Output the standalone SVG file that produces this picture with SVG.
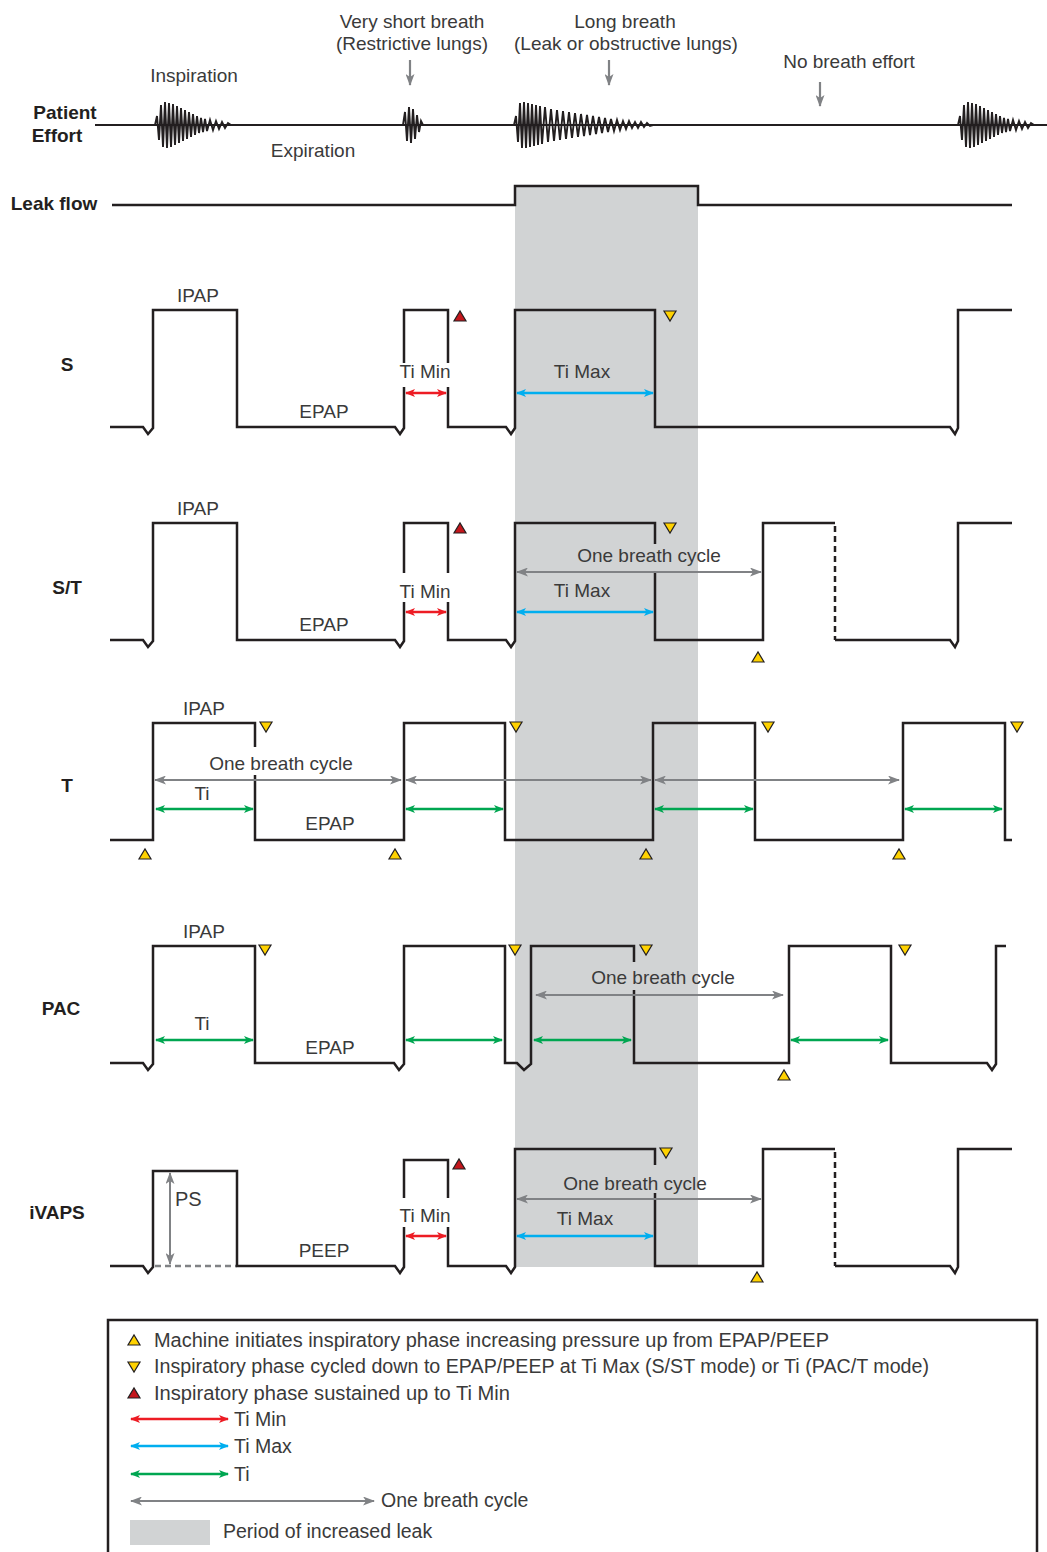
<svg xmlns="http://www.w3.org/2000/svg" xmlns:xlink="http://www.w3.org/1999/xlink" width="1047" height="1552" viewBox="0 0 1047 1552">
<style>
.lbl{font-family:"Liberation Sans",Arial,sans-serif;font-size:19px;fill:#3a3a3a}
.lg{font-family:"Liberation Sans",Arial,sans-serif;font-size:19.5px;fill:#3a3a3a}
.hd{font-family:"Liberation Sans",Arial,sans-serif;font-size:19px;font-weight:bold;fill:#231f20;text-anchor:middle}
.c{text-anchor:middle}
.wave{fill:none;stroke:#231f20;stroke-width:2.5;stroke-linejoin:miter}
.dash{fill:none;stroke:#231f20;stroke-width:2.5;stroke-dasharray:6 4}
.burst{fill:none;stroke:#231f20;stroke-width:1.9;stroke-linejoin:miter}
.red{stroke:#ed1c24;stroke-width:2.5;marker-start:url(#mr);marker-end:url(#mr)}
.blue{stroke:#00aeef;stroke-width:2.5;marker-start:url(#mb);marker-end:url(#mb)}
.green{stroke:#00a651;stroke-width:2.5;marker-start:url(#mg);marker-end:url(#mg)}
.gray{stroke:#808285;stroke-width:2;marker-start:url(#mk);marker-end:url(#mk)}
.down{stroke:#808285;stroke-width:2.2;marker-end:url(#mk)}
.ty{fill:#ffd200;stroke:#231f20;stroke-width:1.2}
.tr{fill:#c4161c;stroke:#231f20;stroke-width:1.2}
</style>
<defs>
<marker id="mr" viewBox="0 0 10 8" refX="9" refY="4" markerWidth="10" markerHeight="8" markerUnits="userSpaceOnUse" orient="auto-start-reverse"><path d="M0,0 L10,4 L0,8 L2.5,4 z" fill="#ed1c24"/></marker>
<marker id="mb" viewBox="0 0 10 8" refX="9" refY="4" markerWidth="10" markerHeight="8" markerUnits="userSpaceOnUse" orient="auto-start-reverse"><path d="M0,0 L10,4 L0,8 L2.5,4 z" fill="#00aeef"/></marker>
<marker id="mg" viewBox="0 0 10 8" refX="9" refY="4" markerWidth="10" markerHeight="8" markerUnits="userSpaceOnUse" orient="auto-start-reverse"><path d="M0,0 L10,4 L0,8 L2.5,4 z" fill="#00a651"/></marker>
<marker id="mk" viewBox="0 0 12 9" refX="11" refY="4.5" markerWidth="12" markerHeight="9" markerUnits="userSpaceOnUse" orient="auto-start-reverse"><path d="M0,0 L12,4.5 L0,9 L3,4.5 z" fill="#808285"/></marker>
<polygon id="tu" points="-6,5 6,5 0,-5"/>
<polygon id="td" points="-6,-5 6,-5 0,5"/>
<polyline id="b1" points="155,125 157,116 159,140 161,105 163,147 165,102 167,148 169,103 171,147 173,104 175,145 177,106 179,143 181,108 183,141 185,110 187,139 189,112 191,137 193,114 195,135 197,116 199,133 201,118 203,132 205,119 207,131 210,120 213,130 216,121 219,129 222,122 225,128 228,123 231,125 233,125"/>
</defs>
<rect width="1047" height="1552" fill="#fff"/>

<!-- leak period shading -->
<rect id="leak-band" x="515" y="186" width="183" height="1081" fill="#d1d3d4"/>

<!-- Patient effort -->
<g id="patient-effort">
<text class="hd" x="65" y="119">Patient</text>
<text class="hd" x="57" y="142">Effort</text>
<path class="wave" style="stroke-width:2" d="M95,125 H1047"/>
<use href="#b1" xlink:href="#b1" class="burst"/>
<polyline class="burst" points="403,125 405,112 407,141 409,107 411,143 413,109 415,139 417,115 419,132 421,121 423,125"/>
<polyline class="burst" points="514,125 516,116 518,142 520,103 522,148 524,102 526,148 528,103 530,147 532,104 534,146 536,105 538,145 540,106 542,144 545,107 548,142 551,109 554,141 557,110 560,140 563,111 566,139 569,112 572,138 575,113 578,137 581,114 584,136 587,115 590,135 593,116 596,134 599,117 602,133 605,118 608,132 611,119 614,131 617,120 620,130 623,121 626,129 629,121 632,128 635,122 638,128 641,122 644,127 647,123 650,126 653,125 656,125"/>
<use href="#b1" xlink:href="#b1" class="burst" transform="translate(803,0)"/>
<text class="lbl c" x="194" y="82">Inspiration</text>
<text class="lbl c" x="313" y="157">Expiration</text>
<text class="lbl c" x="412" y="28">Very short breath</text>
<text class="lbl c" x="412" y="50">(Restrictive lungs)</text>
<text class="lbl c" x="625" y="28">Long breath</text>
<text class="lbl c" x="626" y="50">(Leak or obstructive lungs)</text>
<text class="lbl c" x="849" y="68">No breath effort</text>
</g>

<!-- Leak flow -->
<g id="leak-flow">
<text class="hd" x="54" y="210">Leak flow</text>
<path class="wave" d="M112,205 H515 V186 H698 V205 H1012"/>
</g>

<!-- S -->
<g id="mode-s">
<text class="hd" x="67" y="371">S</text>
<path class="wave" d="M110,427 H143 L148,434 L153,428 V310 H237 V427 H395 L400,434 L404,428 V387"/>
<path class="wave" d="M404,363 V310 H448 V363"/>
<path class="wave" d="M448,387 V427 H506 L511,434 L515,428 V310 H655 V427 H950 L955,434 L958,428 V310 H1012"/>
<text class="lbl c" x="198" y="302">IPAP</text>
<text class="lbl c" x="324" y="418">EPAP</text>
<text class="lbl c" x="425" y="378">Ti Min</text>
<text class="lbl c" x="582" y="378">Ti Max</text>
<use href="#tu" xlink:href="#tu" class="tr" x="460" y="316"/>
<use href="#td" xlink:href="#td" class="ty" x="670" y="316"/>
</g>

<!-- S/T -->
<g id="mode-st">
<text class="hd" x="67" y="594">S/T</text>
<path class="wave" d="M110,640 H143 L148,647 L153,641 V523 H237 V640 H395 L400,647 L404,641 V602"/>
<path class="wave" d="M404,573 V523 H448 V573"/>
<path class="wave" d="M448,602 V640 H506 L511,647 L515,641 V523 H655 V544"/>
<path class="wave" d="M655,571 V640 H763 V523 H835"/>
<path class="dash" d="M835,526 V640"/>
<path class="wave" d="M835,640 H950 L955,647 L958,641 V523 H1012"/>
<text class="lbl c" x="198" y="515">IPAP</text>
<text class="lbl c" x="324" y="631">EPAP</text>
<text class="lbl c" x="425" y="598">Ti Min</text>
<text class="lbl c" x="649" y="562">One breath cycle</text>
<text class="lbl c" x="582" y="597">Ti Max</text>
<use href="#tu" xlink:href="#tu" class="tr" x="460" y="528"/>
<use href="#td" xlink:href="#td" class="ty" x="670" y="528"/>
<use href="#tu" xlink:href="#tu" class="ty" x="758" y="657"/>
</g>

<!-- T -->
<g id="mode-t">
<text class="hd" x="67" y="792">T</text>
<path class="wave" d="M110,840 H153 V723 H255 V747"/>
<path class="wave" d="M255,775 V840 H404 V723 H505 V840 H653 V723 H755 V840 H903 V723 H1005 V840 H1012"/>
<text class="lbl c" x="204" y="715">IPAP</text>
<text class="lbl c" x="281" y="770">One breath cycle</text>
<text class="lbl c" x="202" y="800">Ti</text>
<text class="lbl c" x="330" y="830">EPAP</text>
<use href="#tu" xlink:href="#tu" class="ty" x="145" y="854"/>
<use href="#tu" xlink:href="#tu" class="ty" x="395" y="854"/>
<use href="#tu" xlink:href="#tu" class="ty" x="646" y="854"/>
<use href="#tu" xlink:href="#tu" class="ty" x="899" y="854"/>
<use href="#td" xlink:href="#td" class="ty" x="266" y="727"/>
<use href="#td" xlink:href="#td" class="ty" x="516" y="727"/>
<use href="#td" xlink:href="#td" class="ty" x="768" y="727"/>
<use href="#td" xlink:href="#td" class="ty" x="1017" y="727"/>
</g>

<!-- PAC -->
<g id="mode-pac">
<text class="hd" x="61" y="1015">PAC</text>
<path class="wave" d="M110,1063 H143 L148,1070 L153,1064 V946 H255 V1063 H394 L399,1070 L404,1064 V946 H505 V1063 H517 L524,1070 L531,1064 V946 H634 V962"/>
<path class="wave" d="M634,990 V1063 H789 V946 H891 V1063 H987 L992,1070 L996,1064 V946 H1006"/>
<text class="lbl c" x="204" y="938">IPAP</text>
<text class="lbl c" x="202" y="1030">Ti</text>
<text class="lbl c" x="330" y="1054">EPAP</text>
<text class="lbl c" x="663" y="984">One breath cycle</text>
<use href="#td" xlink:href="#td" class="ty" x="265" y="950"/>
<use href="#td" xlink:href="#td" class="ty" x="515" y="950"/>
<use href="#td" xlink:href="#td" class="ty" x="646" y="950"/>
<use href="#td" xlink:href="#td" class="ty" x="905" y="950"/>
<use href="#tu" xlink:href="#tu" class="ty" x="784" y="1075"/>
</g>

<!-- iVAPS -->
<g id="mode-ivaps">
<text class="hd" x="57" y="1219">iVAPS</text>
<path d="M155,1266 H237" fill="none" stroke="#808285" stroke-width="2.5" stroke-dasharray="6 4"/>
<path class="wave" d="M110,1266 H143 L148,1273 L153,1267 V1171 H237 V1266 H395 L400,1273 L404,1267 V1227"/>
<path class="wave" d="M404,1198 V1160 H448 V1198"/>
<path class="wave" d="M448,1227 V1266 H506 L511,1273 L515,1267 V1149 H655 V1165"/>
<path class="wave" d="M655,1193 V1266 H763 V1149 H835"/>
<path class="dash" d="M835,1152 V1266"/>
<path class="wave" d="M835,1266 H950 L955,1273 L958,1267 V1149 H1012"/>
<text class="lbl" x="175" y="1206" style="font-size:20px">PS</text>
<text class="lbl c" x="324" y="1257">PEEP</text>
<text class="lbl c" x="425" y="1222">Ti Min</text>
<text class="lbl c" x="635" y="1190">One breath cycle</text>
<text class="lbl c" x="585" y="1225">Ti Max</text>
<use href="#tu" xlink:href="#tu" class="tr" x="459" y="1164"/>
<use href="#td" xlink:href="#td" class="ty" x="666" y="1153"/>
<use href="#tu" xlink:href="#tu" class="ty" x="757" y="1277"/>
</g>

<!-- connectors / interval arrows -->
<g id="connectors">
<line class="down" x1="410" y1="60" x2="410" y2="85"/>
<line class="down" x1="609" y1="60" x2="609" y2="85"/>
<line class="down" x1="820" y1="82" x2="820" y2="106"/>
<!-- S -->
<line class="red" x1="406" y1="393" x2="446" y2="393"/>
<line class="blue" x1="517" y1="393" x2="653" y2="393"/>
<!-- S/T -->
<line class="gray" x1="517" y1="572" x2="761" y2="572"/>
<line class="red" x1="406" y1="612" x2="446" y2="612"/>
<line class="blue" x1="517" y1="612" x2="653" y2="612"/>
<!-- T -->
<line class="gray" x1="155" y1="780" x2="401" y2="780"/>
<line class="gray" x1="406" y1="780" x2="651" y2="780"/>
<line class="gray" x1="655" y1="780" x2="899" y2="780"/>
<line class="green" x1="156" y1="809" x2="253" y2="809"/>
<line class="green" x1="406" y1="809" x2="503" y2="809"/>
<line class="green" x1="655" y1="809" x2="753" y2="809"/>
<line class="green" x1="905" y1="809" x2="1002" y2="809"/>
<!-- PAC -->
<line class="gray" x1="536" y1="995" x2="783" y2="995"/>
<line class="green" x1="156" y1="1040" x2="253" y2="1040"/>
<line class="green" x1="406" y1="1040" x2="502" y2="1040"/>
<line class="green" x1="534" y1="1040" x2="631" y2="1040"/>
<line class="green" x1="791" y1="1040" x2="888" y2="1040"/>
<!-- iVAPS -->
<line class="gray" x1="170" y1="1173" x2="170" y2="1264"/>
<line class="gray" x1="517" y1="1199" x2="761" y2="1199"/>
<line class="red" x1="406" y1="1236" x2="446" y2="1236"/>
<line class="blue" x1="517" y1="1236" x2="653" y2="1236"/>
</g>

<!-- Legend -->
<g id="legend">
<rect x="108" y="1320" width="929" height="250" fill="none" stroke="#231f20" stroke-width="2.5"/>
<use href="#tu" xlink:href="#tu" class="ty" x="134" y="1340"/>
<text class="lg" x="154" y="1347" textLength="675" lengthAdjust="spacingAndGlyphs">Machine initiates inspiratory phase increasing pressure up from EPAP/PEEP</text>
<use href="#td" xlink:href="#td" class="ty" x="134" y="1367"/>
<text class="lg" x="154" y="1373" textLength="775" lengthAdjust="spacingAndGlyphs">Inspiratory phase cycled down to EPAP/PEEP at Ti Max (S/ST mode) or Ti (PAC/T mode)</text>
<use href="#tu" xlink:href="#tu" class="tr" x="134" y="1393"/>
<text class="lg" x="154" y="1400" textLength="356" lengthAdjust="spacingAndGlyphs">Inspiratory phase sustained up to Ti Min</text>
<line class="red" x1="131" y1="1419" x2="228" y2="1419"/>
<text class="lg" x="234" y="1426">Ti Min</text>
<line class="blue" x1="131" y1="1446" x2="228" y2="1446"/>
<text class="lg" x="234" y="1453">Ti Max</text>
<line class="green" x1="131" y1="1474" x2="228" y2="1474"/>
<text class="lg" x="234" y="1481">Ti</text>
<line class="gray" x1="131" y1="1501" x2="374" y2="1501"/>
<text class="lg" x="381" y="1507">One breath cycle</text>
<rect x="130" y="1520" width="80" height="25" fill="#d1d3d4"/>
<text class="lg" x="223" y="1538">Period of increased leak</text>
</g>
</svg>
